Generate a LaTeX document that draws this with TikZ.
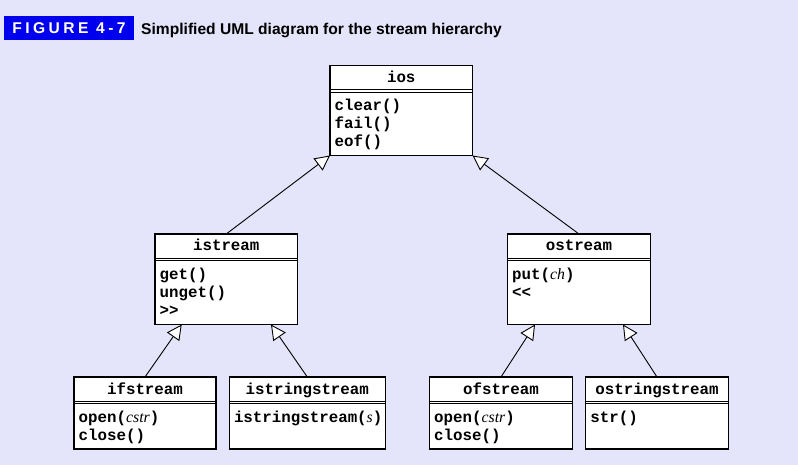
\documentclass[tikz,border=0pt]{standalone}
\usepackage{fontspec}
\setmainfont{Liberation Sans}
\newfontfamily\umlmono{Liberation Mono}
\newfontfamily\umlserif{Liberation Serif}
\usetikzlibrary{arrows.meta,calc}
\definecolor{bgcol}{RGB}{228,228,250}
\definecolor{figblue}{RGB}{0,0,238}
\newcommand\param[1]{{\umlserif\itshape\mdseries #1}}
\newcommand\umlclass[7]{%
  \node[umlbox, minimum width=#4, minimum height=#5, anchor=north west] (#1) at (#2,#3) {};
  \node[umltext, anchor=base] (#1-name) at ($(#1.north)+(0,17)$) {#6};
  \draw[umlsep] ($(#1.north west)+(0,24)$) -- ($(#1.north east)+(0,24)$);
  \draw[umlsep] ($(#1.north west)+(0,26.5)$) -- ($(#1.north east)+(0,26.5)$);
  \foreach \mtext [count=\mi] in {#7} {
    \node[umltext, anchor=base west] (#1-m\mi) at ($(#1.north west)+(4.5,45.5+17.8*\mi-17.8)$) {\mtext};
  }%
}
\begin{document}
\begin{tikzpicture}[x=1pt,y=-1pt,
  umlbox/.style={draw, fill=white, line width=1.2pt, inner sep=0pt, outer sep=0pt},
  umltext/.style={inner sep=0pt, font=\umlmono\bfseries\fontsize{15.8}{18}\selectfont},
  umlsep/.style={line width=0.8pt},
  inh/.style={line width=0.9pt, -{Triangle[length=15pt,width=15pt,fill=white,line width=0.9pt]}},
  figtag/.style={fill=figblue, text=white, inner sep=0pt, minimum width=129.5pt, minimum height=23.5pt,
    font=\bfseries\fontsize{15.6}{18}\selectfont\addfontfeature{LetterSpace=22}},
  captext/.style={inner sep=0pt, font=\bfseries\fontsize{15.6}{18}\selectfont}]
\fill[bgcol] (0,0) rectangle (798,465);
\useasboundingbox (0,0) rectangle (798,465);

\node[figtag, anchor=north west] (figlabel) at (4,16) {FIGURE 4-7};
\node[captext, anchor=base west] (caption) at (141,34.3) {Simplified UML diagram for the stream hierarchy};

\umlclass{ios}{330}{65.5}{142.5pt}{90pt}{ios}{clear(),fail(),eof()}
\umlclass{istream}{155}{234}{142.5pt}{90.5pt}{istream}{get(),unget(),>\kern0pt>}
\umlclass{ostream}{507.5}{234}{143pt}{90.5pt}{ostream}{put(\param{ch}),<\kern0pt<}
\umlclass{ifstream}{74}{377}{142pt}{72pt}{ifstream}{open(\param{cstr}),close()}
\umlclass{istringstream}{229.3}{377}{156pt}{72pt}{istringstream}{istringstream(\param{s})}
\umlclass{ofstream}{429.5}{377}{143pt}{72pt}{ofstream}{open(\param{cstr}),close()}
\umlclass{ostringstream}{585.7}{377}{142.6pt}{72pt}{ostringstream}{str()}

\draw[inh] (istream.north) -- (ios.south west);
\draw[inh] (ostream.north) -- (ios.south east);
\draw[inh] (ifstream.north) -- ($(istream.south west)+(26.7,0)$);
\draw[inh] (istringstream.north) -- ($(istream.south east)+(-26.5,0)$);
\draw[inh] (ofstream.north) -- ($(ostream.south west)+(27.5,0)$);
\draw[inh] (ostringstream.north) -- ($(ostream.south east)+(-27.5,0)$);
\end{tikzpicture}
\end{document}
